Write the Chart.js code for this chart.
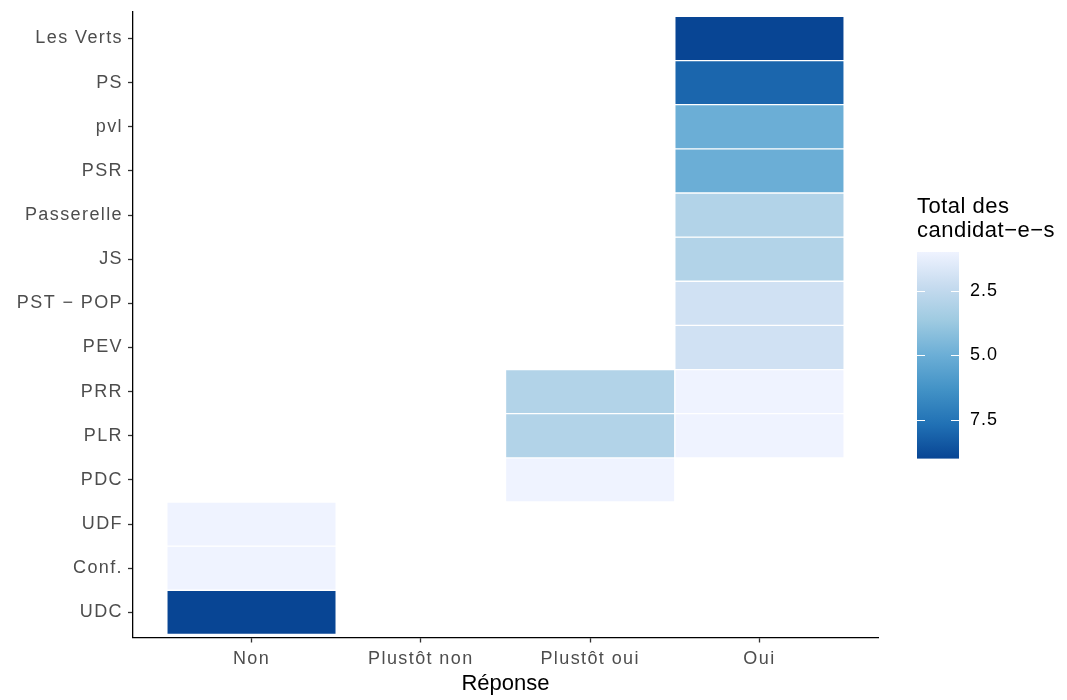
<!DOCTYPE html>
<html>
<head>
<meta charset="utf-8">
<script src="https://cdn.jsdelivr.net/npm/chart.js@4.4.1/dist/chart.umd.min.js"></script>
<style>
  html, body { margin: 0; padding: 0; background: #ffffff; }
  #wrap { position: relative; width: 1067px; height: 700px; }
</style>
</head>
<body>
<div id="wrap"><canvas id="heatmap"></canvas></div>
<script>
// Answer categories (x axis)
const responses = ['Non', 'Plustôt non', 'Plustôt oui', 'Oui'];
// Parties, bottom to top (y axis)
const parties = ['UDC', 'Conf.', 'UDF', 'PDC', 'PLR', 'PRR', 'PEV', 'PST − POP', 'JS',
  'Passerelle', 'PSR', 'pvl', 'PS', 'Les Verts'];

// One entry per filled cell
const cellResponse = ['Non', 'Non', 'Non',
  'Plustôt oui', 'Plustôt oui', 'Plustôt oui',
  'Oui', 'Oui', 'Oui', 'Oui', 'Oui', 'Oui', 'Oui', 'Oui', 'Oui', 'Oui'];
const cellParty = ['UDC', 'Conf.', 'UDF',
  'PDC', 'PLR', 'PRR',
  'PRR', 'PLR', 'PEV', 'PST − POP', 'JS', 'Passerelle', 'PSR', 'pvl', 'PS', 'Les Verts'];
const cellTotal = [9, 1, 1,
  1, 3, 3,
  1, 1, 2, 2, 3, 3, 5, 5, 8, 9];

// Colour scale
const totalMin = 1;
const totalMax = 9;
const legendTicks = [2.5, 5.0, 7.5];
const blues = ['#EFF3FF', '#C6DBEF', '#9ECAE1', '#6BAED6', '#4292C6', '#2171B5', '#084594'];

function hexToRgb(h) {
  return [parseInt(h.slice(1, 3), 16), parseInt(h.slice(3, 5), 16), parseInt(h.slice(5, 7), 16)];
}

function colourFor(v) {
  let t = (v - totalMin) / (totalMax - totalMin);
  t = Math.max(0, Math.min(1, t));
  const pos = t * (blues.length - 1);
  const i = Math.min(Math.floor(pos), blues.length - 2);
  const f = pos - i;
  const a = hexToRgb(blues[i]);
  const b = hexToRgb(blues[i + 1]);
  const c = a.map((x, k) => Math.round(x + (b[k] - x) * f));
  return `rgb(${c[0]}, ${c[1]}, ${c[2]})`;
}

const cells = cellTotal.map((v, i) => {
  const row = parties.indexOf(cellParty[i]) + 1;
  return { x: responses.indexOf(cellResponse[i]) + 1, y: [row - 0.5, row + 0.5], total: v };
});

const FONT = '"Liberation Sans", Arial, Helvetica, sans-serif';

// The reference renders tick labels a little wider than Liberation Sans
const tickSpacing = {
  id: 'tickSpacing',
  beforeLayout(chart) { chart.ctx.letterSpacing = '1.4px'; },
  beforeDraw(chart) { chart.ctx.letterSpacing = '1.4px'; }
};

// Axis title and colour bar legend on the right
const colourBarLegend = {
  id: 'colourBarLegend',
  afterDraw(chart) {
    const ctx = chart.ctx;
    const xs = chart.scales.x;
    const barLeft = 917, barWidth = 42, barTop = 252, barBottom = 458.6;
    ctx.save();
    ctx.letterSpacing = '0px';
    ctx.fillStyle = '#000000';
    ctx.textAlign = 'center';
    ctx.textBaseline = 'alphabetic';
    ctx.font = `22px ${FONT}`;
    ctx.fillText('Réponse', (xs.left + xs.right) / 2, 690);

    ctx.textAlign = 'left';
    ctx.letterSpacing = '0.5px';
    ctx.fillText('Total des', barLeft, 213);
    ctx.fillText('candidat−e−s', barLeft, 237);

    const grad = ctx.createLinearGradient(0, barTop, 0, barBottom);
    blues.forEach((c, i) => grad.addColorStop(i / (blues.length - 1), c));
    ctx.fillStyle = grad;
    ctx.fillRect(barLeft, barTop, barWidth, barBottom - barTop);

    const yOf = v => barTop + (v - totalMin) / (totalMax - totalMin) * (barBottom - barTop);
    ctx.strokeStyle = '#ffffff';
    ctx.lineWidth = 1;
    ctx.letterSpacing = '1px';
    ctx.font = `18px ${FONT}`;
    ctx.textBaseline = 'middle';
    legendTicks.forEach(v => {
      const y = Math.round(yOf(v)) + 0.5;
      ctx.beginPath();
      ctx.moveTo(barLeft, y);
      ctx.lineTo(barLeft + 8, y);
      ctx.moveTo(barLeft + barWidth - 8, y);
      ctx.lineTo(barLeft + barWidth, y);
      ctx.stroke();
      ctx.fillStyle = '#000000';
      ctx.fillText(v.toFixed(1), barLeft + barWidth + 11, y);
    });
    ctx.restore();
  }
};

new Chart(document.getElementById('heatmap'), {
  type: 'bar',
  data: {
    datasets: [{
      data: cells,
      backgroundColor: cells.map(c => colourFor(c.total)),
      borderColor: '#ffffff',
      borderWidth: 1,
      borderSkipped: false,
      categoryPercentage: 1,
      barPercentage: 1
    }]
  },
  options: {
    responsive: true,
    maintainAspectRatio: false,
    animation: false,
    layout: { padding: { top: 12, right: 189, left: 0, bottom: 0 } },
    plugins: {
      legend: { display: false },
      tooltip: { enabled: false }
    },
    scales: {
      x: {
        type: 'linear',
        offset: false,
        min: 0.3,
        max: 4.7,
        afterBuildTicks: scale => { scale.ticks = responses.map((r, i) => ({ value: i + 1 })); },
        afterFit: scale => { scale.height = 62.5; scale.paddingLeft = 0; scale.paddingRight = 0; },
        ticks: {
          autoSkip: false,
          maxRotation: 0,
          padding: 6,
          color: '#4D4D4D',
          font: { family: FONT, size: 18 },
          callback: v => responses[v - 1]
        },
        grid: { offset: false, drawOnChartArea: false, drawTicks: true, tickLength: 5,
          tickColor: '#333333', tickWidth: 1.3 },
        border: { display: true, color: '#000000', width: 1.3 }
      },
      y: {
        type: 'linear',
        min: 0.43,
        max: 14.6,
        afterBuildTicks: scale => { scale.ticks = parties.map((p, i) => ({ value: i + 1 })); },
        afterFit: scale => { scale.width = 133; scale.paddingTop = 0; scale.paddingBottom = 0; },
        ticks: {
          autoSkip: false,
          padding: 5,
          color: '#4D4D4D',
          font: { family: FONT, size: 18 },
          callback: v => parties[v - 1]
        },
        grid: { drawOnChartArea: false, drawTicks: true, tickLength: 5,
          tickColor: '#333333', tickWidth: 1.3 },
        border: { display: true, color: '#000000', width: 1.3 }
      }
    }
  },
  plugins: [tickSpacing, colourBarLegend]
});
</script>
</body>
</html>
